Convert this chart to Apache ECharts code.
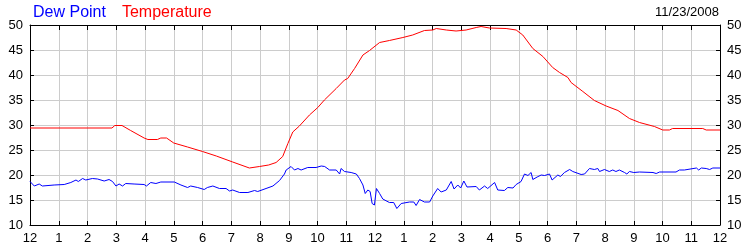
<!DOCTYPE html>
<html>
<head>
<meta charset="utf-8">
<script src="https://cdn.jsdelivr.net/npm/echarts@6/dist/echarts.min.js"></script>
<style>html,body{margin:0;padding:0;background:#fff}#c{width:750px;height:250px}</style>
</head>
<body>
<div id="c"></div>
<script>
var hourLabels = ['12','1','2','3','4','5','6','7','8','9','10','11','12','1','2','3','4','5','6','7','8','9','10','11','12'];
var yTicks = [10,15,20,25,30,35,40,45,50];
var dateText = '11/23/2008';
var seriesNames = ['Dew Point','Temperature'];

var tempHours = [0,2.85,2.95,3.2,3.5,3.97,4.1,4.43,4.55,4.75,5.0,5.48,6.0,6.48,7.05,7.63,7.98,8.3,8.56,8.79,8.97,9.14,9.37,9.72,10.01,10.24,10.65,10.94,11.05,11.29,11.58,11.81,12.16,12.5,12.97,13.31,13.72,14.01,14.13,14.48,14.82,15.17,15.52,15.69,15.98,16.56,16.91,17.14,17.49,17.84,18.18,18.42,18.71,18.82,19.23,19.63,20.04,20.45,20.85,21.2,21.72,22.01,22.24,22.35,23.4,23.52,24];
var tempValues = [29.4,29.4,29.9,29.9,28.9,27.4,27.1,27.1,27.4,27.4,26.4,25.6,24.7,23.8,22.6,21.4,21.7,22.0,22.5,23.7,26.3,28.6,29.8,32.0,33.5,35.0,37.3,39.0,39.3,41.3,44.0,44.9,46.5,46.9,47.5,48.0,48.9,49.0,49.3,49.0,48.8,49.0,49.5,49.7,49.4,49.3,49.0,48.0,45.3,43.7,41.5,40.5,39.5,38.5,36.7,34.9,33.8,32.9,31.3,30.5,29.7,29.0,29.0,29.3,29.3,29.0,29.0];

var dewHours = [0,0.15,0.32,0.43,0.84,1.19,1.42,1.6,1.68,1.83,1.94,2.17,2.35,2.58,2.75,2.87,2.99,3.1,3.22,3.33,3.62,3.97,4.05,4.2,4.38,4.55,5.02,5.25,5.48,5.59,5.83,6.06,6.17,6.36,6.59,6.82,6.94,7.05,7.29,7.58,7.81,7.92,8.21,8.45,8.68,8.85,8.91,8.97,9.08,9.2,9.32,9.43,9.66,9.95,10.13,10.25,10.42,10.65,10.77,10.82,10.94,11.0,11.17,11.35,11.46,11.58,11.66,11.75,11.83,11.9,11.98,12.05,12.16,12.27,12.5,12.65,12.76,12.91,13.2,13.35,13.43,13.55,13.72,13.9,14.01,14.18,14.3,14.48,14.65,14.75,14.88,14.98,15.09,15.2,15.52,15.63,15.81,15.92,16.16,16.27,16.5,16.62,16.8,16.91,17.08,17.2,17.32,17.43,17.49,17.64,17.78,17.9,18.07,18.16,18.36,18.45,18.59,18.77,18.88,19.17,19.29,19.46,19.63,19.75,19.81,19.98,20.15,20.27,20.38,20.5,20.68,20.76,20.85,21.0,21.2,21.67,21.78,21.9,22.47,22.59,22.76,22.82,23.18,23.26,23.35,23.52,23.64,23.75,24];
var dewValues = [18.7,17.8,18.2,17.8,18.0,18.1,18.5,19.0,18.7,19.3,19.0,19.3,19.2,18.8,19.1,18.7,17.8,18.2,17.8,18.3,18.2,18.1,17.8,18.5,18.3,18.6,18.6,18.0,17.5,17.8,17.5,17.1,17.5,17.8,17.3,17.3,16.8,17.0,16.5,16.5,16.9,16.7,17.3,17.8,18.9,20.2,21.0,20.6,21.7,21.0,21.3,21.0,21.5,21.5,21.8,21.7,21.0,21.0,20.2,21.3,20.7,20.3,20.5,20.2,19.3,18.0,16.3,17.0,16.7,14.3,14.0,17.3,16.3,15.2,14.5,14.5,13.3,14.3,14.6,14.6,13.9,15.1,14.6,14.6,15.8,17.3,16.6,17.0,18.7,17.2,18.0,17.4,18.8,17.6,17.7,17.0,17.8,17.3,18.5,17.0,16.9,17.5,17.4,18.1,18.7,20.2,19.9,20.5,19.1,19.6,20.0,19.9,20.2,19.0,20.0,19.7,20.5,21.1,20.7,20.1,20.2,21.3,21.1,21.3,20.7,21.1,20.7,21.0,20.7,21.0,20.5,20.2,20.7,20.5,20.6,20.5,20.3,20.6,20.6,21.0,21.0,21.4,21.4,21.0,21.4,21.3,21.1,21.4,21.4];

function zip(xs, ys) { return xs.map(function (x, i) { return [x, ys[i]]; }); }

var FONT = '"Liberation Sans", Arial, sans-serif';
var gridLine = { show: true, lineStyle: { color: '#cccccc', width: 1 } };
var axisBlack = { show: true, onZero: false, lineStyle: { color: '#000', width: 1 } };

var chart = echarts.init(document.getElementById('c'), null, { renderer: 'canvas' });
chart.setOption({
  animation: false,
  backgroundColor: '#fff',
  grid: { left: 30, right: 30, top: 25, bottom: 25, containLabel: false },
  title: {
    text: dateText, right: 31, top: 6, padding: 0,
    textStyle: { fontFamily: FONT, fontSize: 13, fontWeight: 'normal', color: '#000' }
  },
  legend: {
    left: 28, top: 5, padding: 0, icon: 'none', itemWidth: 0, itemGap: 11, selectedMode: false,
    textStyle: { fontFamily: FONT, fontSize: 16 },
    data: [
      { name: seriesNames[0], textStyle: { color: '#0000ff' } },
      { name: seriesNames[1], textStyle: { color: '#ff0000' } }
    ]
  },
  xAxis: [
    {
      type: 'value', min: 0, max: 24, interval: 1, position: 'bottom',
      axisLine: axisBlack,
      axisTick: { show: true, inside: true, length: 4, lineStyle: { color: '#000' } },
      axisLabel: {
        show: true, margin: 7, fontFamily: FONT, fontSize: 13, color: '#000',
        showMinLabel: true, showMaxLabel: true,
        formatter: function (v) { return hourLabels[Math.round(v)]; }
      },
      splitLine: gridLine
    },
    {
      type: 'value', min: 0, max: 24, interval: 1, position: 'top',
      axisLine: axisBlack,
      axisTick: { show: true, inside: true, length: 5, lineStyle: { color: '#000' } },
      axisLabel: { show: false },
      splitLine: { show: false }
    }
  ],
  yAxis: [
    {
      type: 'value', min: yTicks[0], max: yTicks[yTicks.length - 1], interval: 5, position: 'left',
      axisLine: axisBlack,
      axisTick: { show: true, inside: true, length: 4, lineStyle: { color: '#000' } },
      axisLabel: { margin: 7, fontFamily: FONT, fontSize: 13, color: '#000', showMinLabel: true, showMaxLabel: true },
      splitLine: gridLine
    },
    {
      type: 'value', min: yTicks[0], max: yTicks[yTicks.length - 1], interval: 5, position: 'right',
      axisLine: axisBlack,
      axisTick: { show: true, inside: true, length: 4, lineStyle: { color: '#000' } },
      axisLabel: { margin: 7, fontFamily: FONT, fontSize: 13, color: '#000', showMinLabel: true, showMaxLabel: true },
      splitLine: { show: false }
    }
  ],
  series: [
    {
      name: seriesNames[0], type: 'line', xAxisIndex: 0, yAxisIndex: 0,
      data: zip(dewHours, dewValues), showSymbol: false, symbol: 'none',
      lineStyle: { color: '#0000ff', width: 1 }, itemStyle: { color: '#0000ff' }, z: 3
    },
    {
      name: seriesNames[1], type: 'line', xAxisIndex: 0, yAxisIndex: 0,
      data: zip(tempHours, tempValues), showSymbol: false, symbol: 'none',
      lineStyle: { color: '#ff0000', width: 1 }, itemStyle: { color: '#ff0000' }, z: 4
    }
  ]
});
</script>
</body>
</html>
